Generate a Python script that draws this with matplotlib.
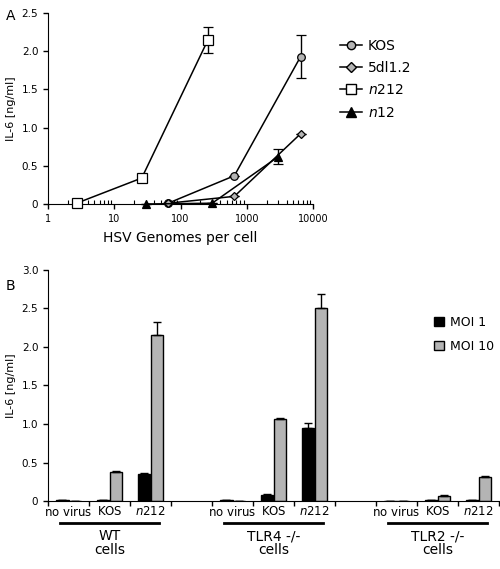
import matplotlib.pyplot as plt
import matplotlib.transforms as mtransforms
from matplotlib.patches import Patch
from matplotlib.lines import Line2D
import numpy as np

plt.rcParams['font.family'] = 'DejaVu Sans'

# ---- panel A data ----
kos_x = [65, 650, 6500]
kos_y = [0.01, 0.37, 1.93]
kos_err = [0, 0, 0.28]
dl_x = [65, 650, 6500]
dl_y = [0.01, 0.10, 0.92]
n212_x = [2.7, 26, 260]
n212_y = [0.01, 0.34, 2.15]
n212_err = [0, 0, 0.17]
n12_x = [30, 300, 3000]
n12_y = [0.0, 0.01, 0.62]
n12_err = [0, 0, 0.10]

# ---- panel B data ----
groups = ['WT', 'TLR4 -/-', 'TLR2 -/-']
viruses = ['no virus', 'KOS', 'n212']
moi1 = [[0.01, 0.01, 0.35], [0.01, 0.08, 0.95], [0.0, 0.01, 0.01]]
moi1_err = [[0, 0, 0.01], [0, 0.005, 0.06], [0, 0, 0]]
moi10 = [[0.0, 0.38, 2.15], [0.0, 1.07, 2.51], [0.0, 0.07, 0.31]]
moi10_err = [[0, 0.01, 0.17], [0, 0.01, 0.18], [0, 0.01, 0.01]]

gray = '#b4b4b4'

fig = plt.figure(figsize=(5, 5.69), dpi=100)

###########################################################
####  PANEL A
axA = fig.add_axes([0.096, 0.6415, 0.53, 0.3355])

def series(x, y, err, marker, fc, ms, label):
    axA.errorbar(x, y, yerr=err, fmt='-', color='black', lw=1.1,
                 marker=marker, mfc=fc, mec='black', ms=ms, mew=0.9,
                 capsize=3.5, elinewidth=1, clip_on=False, label=label, zorder=3)

series(kos_x, kos_y, kos_err, 'o', gray, 5.5, 'KOS')
series(dl_x, dl_y, [0, 0, 0], 'D', gray, 4.5, '5dl1.2')
series(n212_x, n212_y, n212_err, 's', 'white', 6.5, r'$\it{n}$212')
series(n12_x, n12_y, n12_err, '^', 'black', 6, r'$\it{n}$12')

axA.set_xscale('log')
axA.set_xlim(1, 10000)
axA.set_ylim(0, 2.5)
axA.set_xticks([1, 10, 100, 1000, 10000])
axA.set_xticklabels(['1', '10', '100', '1000', '10000'])
axA.set_yticks([0, 0.5, 1.0, 1.5, 2.0, 2.5])
axA.set_yticklabels(['0', '0.5', '1.0', '1.5', '2.0', '2.5'])
axA.tick_params(axis='both', labelsize=7.5, width=1, length=3.5)
axA.tick_params(axis='x', labelsize=7)
axA.tick_params(axis='x', which='minor', direction='in', length=3, width=0.8)
axA.spines['top'].set_visible(False)
axA.spines['right'].set_visible(False)
axA.set_xlabel('HSV Genomes per cell', fontsize=10, labelpad=5)
axA.set_ylabel('IL-6 [ng/ml]', fontsize=8)

handles = [
    Line2D([], [], color='black', lw=1.1, marker='o', mfc=gray, mec='black', ms=6),
    Line2D([], [], color='black', lw=1.1, marker='D', mfc=gray, mec='black', ms=5),
    Line2D([], [], color='black', lw=1.1, marker='s', mfc='white', mec='black', ms=7),
    Line2D([], [], color='black', lw=1.1, marker='^', mfc='black', mec='black', ms=6.5),
]
fig.legend(handles, ['KOS', '5dl1.2', r'$\it{n}$212', r'$\it{n}$12'],
           loc='upper left', bbox_to_anchor=(0.655, 0.954), frameon=False,
           fontsize=10, handlelength=1.6, handletextpad=0.4, labelspacing=0.6)

fig.text(0.012, 0.985, 'A', fontsize=10, va='top')

###########################################################
####  PANEL B
axB = fig.add_axes([0.096, 0.1195, 0.902, 0.406])
w = 0.3
for g in range(3):
    pos = np.arange(3) + g * 4
    axB.bar(pos - w / 2, moi1[g], w, color='black', edgecolor='black', lw=1,
            yerr=[[0] * 3, moi1_err[g]], capsize=3, error_kw=dict(elinewidth=1, capthick=1))
    axB.bar(pos + w / 2, moi10[g], w, color=gray, edgecolor='black', lw=1,
            yerr=[[0] * 3, moi10_err[g]], capsize=3, error_kw=dict(elinewidth=1, capthick=1))

axB.set_xlim(-0.5, 10.5)
axB.set_ylim(0, 3.0)
axB.set_yticks([0, 0.5, 1.0, 1.5, 2.0, 2.5, 3.0])
axB.set_yticklabels(['0', '0.5', '1.0', '1.5', '2.0', '2.5', '3.0'])
axB.set_xticks([p + 0.5 for p in range(-1, 11)])
axB.set_xticklabels([])
cat_pos = [i + g * 4 for g in range(3) for i in range(3)]
cat_lab = [r'$\mathit{n}\mathregular{212}$' if v == 'n212' else r'$\mathregular{' + v.replace(' ', r'\ ') + '}$'
           for g in range(3) for v in viruses]
axB.set_xticks(cat_pos, minor=True)
axB.set_xticklabels(cat_lab, minor=True)
axB.tick_params(axis='x', which='minor', length=0, labelsize=8.5, pad=3)
axB.tick_params(axis='both', which='major', labelsize=7.5, width=1, length=3.5)
axB.spines['top'].set_visible(False)
axB.spines['right'].set_visible(False)
axB.set_ylabel('IL-6 [ng/ml]', fontsize=8)

trans = mtransforms.blended_transform_factory(axB.transData, axB.transAxes)
for g, name in enumerate(groups):
    x0 = g * 4
    axB.plot([x0 - 0.2, x0 + 2.2], [-0.095, -0.095], color='black', lw=2,
             transform=trans, clip_on=False)
    axB.text(x0 + 1, -0.122, name + '\ncells', transform=trans, ha='center',
             va='top', fontsize=10, linespacing=1.0)

fig.legend([Patch(facecolor='black', edgecolor='black'), Patch(facecolor=gray, edgecolor='black')],
           ['MOI 1', 'MOI 10'], loc='upper left', bbox_to_anchor=(0.845, 0.465),
           frameon=False, fontsize=9, handlelength=0.8, handleheight=0.8,
           handletextpad=0.5, labelspacing=0.9)

fig.text(0.012, 0.51, 'B', fontsize=10, va='top')

fig.savefig('out.png', dpi=100)
